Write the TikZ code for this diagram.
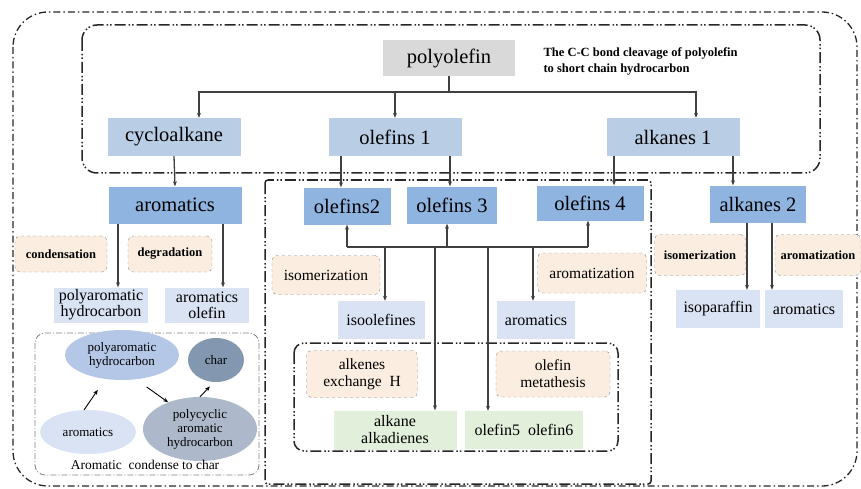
\documentclass[tikz,border=0pt]{standalone}
\usepackage{fontspec}
\setmainfont{Liberation Serif}
\usetikzlibrary{shapes.geometric,arrows.meta}
\definecolor{polygray}{HTML}{D9D9D9}
\definecolor{lvlone}{HTML}{B9CDE5}
\definecolor{lvltwo}{HTML}{8FB4E0}
\definecolor{lvlthree}{HTML}{DAE3F3}
\definecolor{procfill}{HTML}{FBEDDF}
\definecolor{prodgreen}{HTML}{E2EFDA}
\definecolor{ellA}{HTML}{B4C7E7}
\definecolor{ellB}{HTML}{8497B0}
\definecolor{ellC}{HTML}{DAE3F3}
\definecolor{ellD}{HTML}{ADB9CA}
\definecolor{linegray}{HTML}{404040}

\begin{document}
\begin{tikzpicture}[x=1pt, y=-1pt,
    bigbox/.style={rectangle, inner sep=1pt, font=\rmfamily\fontsize{20.5}{22}\selectfont},
    topnode/.style={bigbox, fill=polygray, minimum width=132pt, minimum height=36pt},
    lvla/.style={bigbox, fill=lvlone, minimum width=133pt, minimum height=38pt},
    lvlb/.style={bigbox, fill=lvltwo, minimum height=37pt},
    prod/.style={rectangle, inner sep=1pt, align=center, fill=lvlthree, minimum height=37pt, font=\rmfamily\fontsize{16}{17}\selectfont},
    green/.style={prod, fill=prodgreen},
    proc/.style={rectangle, rounded corners=5pt, align=center, draw=gray!90, dashed, fill=procfill, font=\rmfamily\fontsize{15.5}{17}\selectfont},
    bproc/.style={proc, font=\rmfamily\fontsize{12.5}{14}\selectfont\bfseries},
    ell/.style={ellipse, inner sep=0pt, align=center, font=\rmfamily\fontsize{13}{14}\selectfont},
    line/.style={draw=linegray, line width=1.3pt},
    edge/.style={line, -{Stealth[length=5pt,width=4pt]}},
    sedge/.style={draw=black, line width=0.9pt, -{Stealth[length=5pt,width=4pt]}},
    outerline/.style={draw=black!85, line width=1.3pt, dash pattern=on 7pt off 3pt on 1.5pt off 3pt},
    regionline/.style={draw=black!85, line width=1.5pt, dash pattern=on 11pt off 3pt on 1.5pt off 2pt on 1.5pt off 3pt},
]
\useasboundingbox (0,0) rectangle (861,489);

% regions
\draw[outerline, rounded corners=35pt] (13,12) rectangle (857,486);
\draw[regionline, rounded corners=15pt] (82,25) rectangle (820,173);
\draw[regionline, rounded corners=3pt] (265,180) rectangle (651,484);
\draw[regionline, rounded corners=10pt] (294,343) rectangle (618,451);
\draw[draw=gray, line width=0.8pt, dash pattern=on 6pt off 2pt on 1pt off 2pt, rounded corners=10pt] (35,333) rectangle (259,475);

% cleavage level
\node[topnode] (poly) at (449,58) {polyolefin};
\node[anchor=west, align=left, font=\rmfamily\fontsize{12.5}{16}\selectfont\bfseries] (cleave) at (540,61) {The C-C bond cleavage of polyolefin\\to short chain hydrocarbon};
\node[lvla] (cyclo) at (174,137) {cycloalkane};
\node[lvla] (olefinsA) at (395,137) {olefins 1};
\node[lvla] (alkanesA) at (673,137) {alkanes 1};

\node[lvlb, minimum width=133pt] (arom) at (175,205) {aromatics};
\node[lvlb, minimum width=87pt] (olefinsB) at (347,206) {olefins2};
\node[lvlb, minimum width=90pt] (olefinsC) at (452,205) {olefins 3};
\node[lvlb, minimum width=107pt, minimum height=35pt] (olefinsD) at (590,203) {olefins 4};
\node[lvlb, minimum width=96pt] (alkanesB) at (758,204) {alkanes 2};

% aromatics branch
\node[bproc, minimum width=92pt, minimum height=36pt] (cond) at (61,254) {condensation};
\node[bproc, minimum width=84pt, minimum height=36pt] (degr) at (170,254) {degradation};
\node[prod, minimum width=94pt, minimum height=35pt, font=\rmfamily\fontsize{16}{16}\selectfont] (pah) at (101,305) {polyaromatic\\hydrocarbon};
\node[prod, minimum width=84pt, minimum height=35pt, font=\rmfamily\fontsize{16}{16}\selectfont] (aromol) at (207,305) {aromatics\\olefin};

\node[ell, fill=ellA, minimum width=114pt, minimum height=50pt] (ellpah) at (122,355) {polyaromatic\\hydrocarbon};
\node[ell, fill=ellB, minimum width=56pt, minimum height=44pt] (char) at (216,360) {char};
\node[ell, fill=ellC, minimum width=96pt, minimum height=44pt] (ellarom) at (88,432) {aromatics};
\node[ell, fill=ellD, minimum width=114pt, minimum height=64pt] (ellpoly) at (200,429) {polycyclic\\aromatic\\hydrocarbon};
\node[font=\rmfamily\fontsize{13.5}{14}\selectfont] (condlbl) at (145,465) {Aromatic\ \ condense to char};

% olefins branch
\node[proc, minimum width=108pt, minimum height=39pt] (isoM) at (326,275) {isomerization};
\node[proc, minimum width=109pt, minimum height=40pt] (aromM) at (592,273) {aromatization};
\node[prod, minimum width=87pt, minimum height=38pt] (isool) at (381,320) {isoolefines};
\node[prod, minimum width=78pt, minimum height=38pt] (aromP) at (536,320) {aromatics};
\node[proc, minimum width=111pt, minimum height=47pt] (exch) at (362,374) {alkenes\\exchange\ \ H};
\node[proc, minimum width=114pt, minimum height=46pt] (meta) at (553,374) {olefin\\metathesis};
\node[green, minimum width=123pt, minimum height=39pt] (alkad) at (395,430) {alkane\\alkadienes};
\node[green, minimum width=118pt, minimum height=38pt] (olef56) at (524,430) {olefin5\ \ olefin6};

% alkanes branch
\node[bproc, minimum width=91pt, minimum height=41pt] (isoR) at (700,255) {isomerization};
\node[bproc, minimum width=86pt, minimum height=41pt] (aromR) at (818,255) {aromatization};
\node[prod, minimum width=84pt, minimum height=38pt] (isopar) at (718,309) {isoparaffin};
\node[prod, minimum width=78pt, minimum height=38pt] (aromRR) at (804,309) {aromatics};

% connectors
\coordinate (split) at (449,92);
\coordinate (bar) at (0,247);
\draw[line] (poly.south) -- (split);
\draw[edge] (split) -| ([xshift=25pt]cyclo.north);
\draw[edge] (split) -| ([xshift=23pt]alkanesA.north);
\draw[edge] (olefinsA.north |- split) -- (olefinsA.north);

\draw[edge] (cyclo.south) -- (arom.north);
\draw[edge] ([xshift=-6pt]olefinsB.north |- olefinsA.south) -- ([xshift=-6pt]olefinsB.north);
\draw[edge] ([xshift=-2pt]olefinsC.north |- olefinsA.south) -- ([xshift=-2pt]olefinsC.north);
\draw[edge] ([xshift=24pt]olefinsD.north |- alkanesA.south) -- ([xshift=24pt]olefinsD.north);
\draw[edge] ([xshift=-25pt]alkanesB.north |- alkanesA.south) -- ([xshift=-25pt]alkanesB.north);

\draw[edge] ([xshift=17pt]pah.north |- arom.south) -- ([xshift=17pt]pah.north);
\draw[edge] ([xshift=16pt]aromol.north |- arom.south) -- ([xshift=16pt]aromol.north);
\draw[edge] ([xshift=29pt]isopar.north |- alkanesB.south) -- ([xshift=29pt]isopar.north);
\draw[edge] ([xshift=-32pt]aromRR.north |- alkanesB.south) -- ([xshift=-32pt]aromRR.north);

\draw[line] (olefinsB.south |- bar) -- ([xshift=-2pt]olefinsD.south |- bar);
\draw[edge] (olefinsB.south |- bar) -- (olefinsB.south);
\draw[edge] ([xshift=-5pt]olefinsC.south |- bar) -- ([xshift=-5pt]olefinsC.south);
\draw[edge] ([xshift=-2pt]olefinsD.south |- bar) -- ([xshift=-2pt]olefinsD.south);
\draw[edge] ([xshift=4pt]isool.north |- bar) -- ([xshift=4pt]isool.north);
\draw[edge] ([xshift=40pt]alkad.north |- bar) -- ([xshift=40pt]alkad.north);
\draw[edge] ([xshift=-36pt]olef56.north |- bar) -- ([xshift=-36pt]olef56.north);
\draw[edge] ([xshift=-3pt]aromP.north |- bar) -- ([xshift=-3pt]aromP.north);

\draw[sedge, shorten >=13pt] (ellarom.100) -- (ellpah.235);
\draw[sedge, shorten <=13pt] (ellpah.300) -- (ellpoly.140);
\draw[sedge, shorten >=6pt] (ellpoly.90) -- (char.265);
\end{tikzpicture}
\end{document}
